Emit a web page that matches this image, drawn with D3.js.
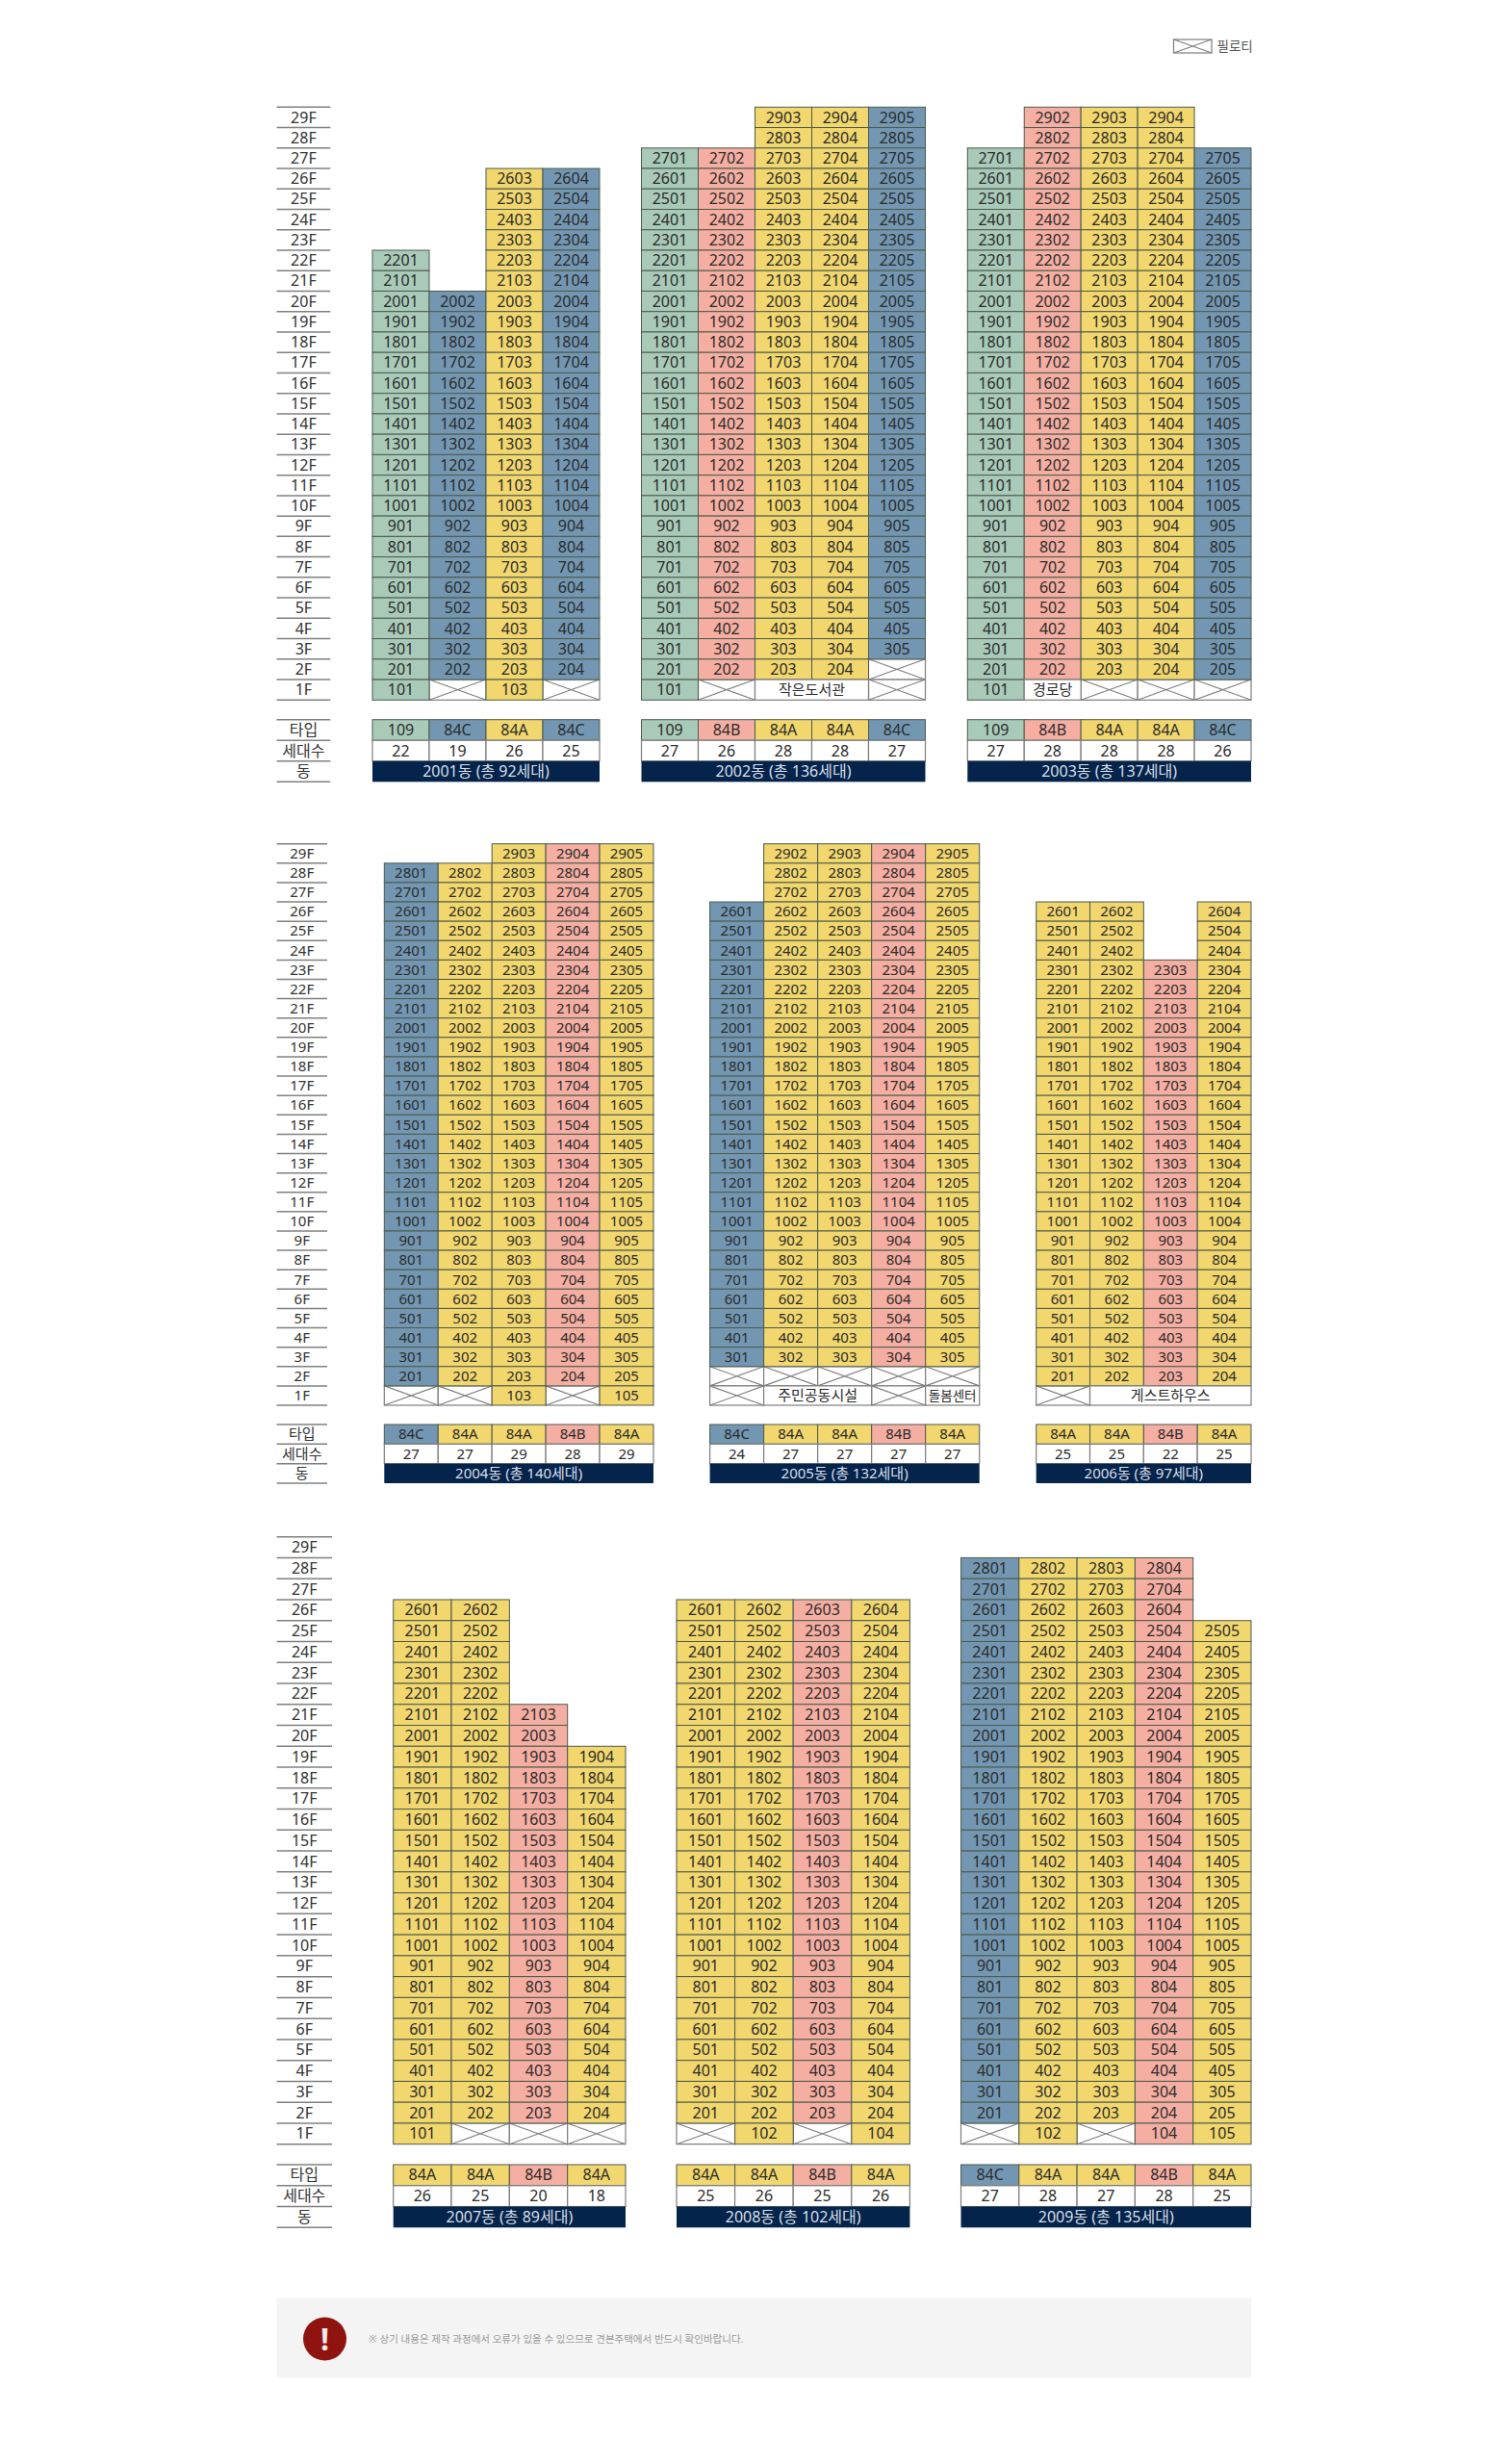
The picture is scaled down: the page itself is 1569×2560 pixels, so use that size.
<!DOCTYPE html>
<html lang="ko">
<head>
<meta charset="utf-8">
<script src="https://cdn.jsdelivr.net/npm/d3@7/dist/d3.min.js"></script>
<style>
html,body{margin:0;padding:0;background:#fff}
svg{display:block}
text{font-family:"Noto Sans","Noto Sans CJK KR",sans-serif;fill:#2b2b2b}
</style>
</head>
<body>
<div id="chart"></div>
<script>
// ---- data ----
const floorLabels = d3.range(29, 0, -1);
const tableLabels = ['타입', '세대수', '동'];
const buildingTitles = ['2001동 (총 92세대)','2002동 (총 136세대)','2003동 (총 137세대)',
  '2004동 (총 140세대)','2005동 (총 132세대)','2006동 (총 97세대)',
  '2007동 (총 89세대)','2008동 (총 102세대)','2009동 (총 135세대)'];
const buildingTypes = [
  ['109','84C','84A','84C'],
  ['109','84B','84A','84A','84C'],
  ['109','84B','84A','84A','84C'],
  ['84C','84A','84A','84B','84A'],
  ['84C','84A','84A','84B','84A'],
  ['84A','84A','84B','84A'],
  ['84A','84A','84B','84A'],
  ['84A','84A','84B','84A'],
  ['84C','84A','84A','84B','84A']
];
const householdCounts = [
  [22,19,26,25],[27,26,28,28,27],[27,28,28,28,26],
  [27,27,29,28,29],[24,27,27,27,27],[25,25,22,25],
  [26,25,20,18],[25,26,25,26],[27,28,27,28,25]
];
const topFloors = [
  [22,20,26,26],[27,27,29,29,29],[27,29,29,29,27],
  [28,28,29,29,29],[26,29,29,29,29],[26,26,23,26],
  [26,26,21,19],[26,26,26,26],[28,28,28,28,25]
];
// non-residential rooms: [building, floor, first line, lines spanned, name]
const facilities = [
  [1,1,2,2,'작은도서관'],
  [2,1,1,1,'경로당'],
  [4,1,1,2,'주민공동시설'],
  [4,1,4,1,'돌봄센터'],
  [5,1,1,3,'게스트하우스']
];
const legendLabel = '필로티';
const noticeText = '※ 상기 내용은 제작 과정에서 오류가 있을 수 있으므로 견본주택에서 반드시 확인바랍니다.';

// ---- layout and style ----
const W = 1569, H = 2560;
const typeColor = d3.scaleOrdinal(['109','84C','84A','84B'], ['#a9cab9','#7397b2','#f1d76e','#f5aea2']);
const groups = [
  {top:111.3, bottom:727.3, table:[747.7,812.3], ruleEnd:343.3, font:16, buildings:[[0,387,623],[1,666.5,961.5],[2,1005.3,1300]]},
  {top:876.7, bottom:1460, table:[1480,1541], ruleEnd:340, font:15, buildings:[[3,399.3,679],[4,737.6,1017.7],[5,1076.7,1300]]},
  {top:1596.7, bottom:2227.7, table:[2249,2314.3], ruleEnd:345, font:16, buildings:[[6,408.7,650],[7,703,945.4],[8,998.5,1300]]}
];
const ruleStart = 287.5, gridStroke = '#4d5a4c', pilotiStroke = '#7d7d7d', ruleStroke = '#808080';

const svg = d3.select('#chart').append('svg').attr('width', W).attr('height', H).attr('viewBox', `0 0 ${W} ${H}`);

function pilotis(g, x, y, w, h) {
  g.append('rect').attr('x', x).attr('y', y).attr('width', w).attr('height', h)
    .attr('fill', '#fff').attr('stroke', pilotiStroke).attr('stroke-width', 1.2);
  g.append('path').attr('d', `M${x},${y}L${x+w},${y+h}M${x+w},${y}L${x},${y+h}`)
    .attr('fill', 'none').attr('stroke', pilotiStroke).attr('stroke-width', 1.1);
}

function sideLabels(g, scale, domain, group) {
  // rules between labels, labels through a d3 axis
  const edges = domain.map(d => scale(d)).concat(scale(domain[domain.length - 1]) + scale.bandwidth());
  g.selectAll(null).data(edges).join('line')
    .attr('x1', ruleStart).attr('x2', group.ruleEnd).attr('y1', d => d).attr('y2', d => d)
    .attr('stroke', ruleStroke).attr('stroke-width', 1.5);
  const axis = g.append('g').attr('transform', `translate(${(ruleStart + group.ruleEnd) / 2},0)`)
    .call(d3.axisLeft(scale).tickSize(0).tickPadding(0).tickFormat(d => typeof d === 'number' ? d + 'F' : d));
  axis.select('.domain').remove();
  axis.selectAll('text').attr('x', 0).attr('text-anchor', 'middle').attr('dy', '.35em')
    .style('font-size', group.font + 'px').style('fill', '#333');
}

groups.forEach(group => {
  const root = svg.append('g');
  const y = d3.scaleBand().domain(floorLabels).range([group.top, group.bottom]);
  const yTable = d3.scaleBand().domain(tableLabels).range(group.table);
  sideLabels(root, y, floorLabels, group);
  sideLabels(root, yTable, tableLabels, group);

  group.buildings.forEach(([b, x0, x1]) => {
    const types = buildingTypes[b];
    const x = d3.scaleBand().domain(d3.range(types.length)).range([x0, x1]);
    const g = root.append('g');
    const w = x.bandwidth(), h = y.bandwidth();

    const units = [], voids = [];
    types.forEach((t, c) => {
      const top = topFloors[b][c];
      const low = top - householdCounts[b][c] + 1;
      for (let f = top; f >= low; f--) units.push({floor:f, col:c, type:t, label:String(f * 100 + c + 1)});
      for (let f = low - 1; f >= 1; f--) {
        const taken = facilities.some(q => q[0] === b && q[1] === f && c >= q[2] && c < q[2] + q[3]);
        if (!taken) voids.push({floor:f, col:c});
      }
    });

    voids.forEach(d => pilotis(g, x(d.col), y(d.floor), w, h));

    g.selectAll('rect.unit').data(units).join('rect').attr('class', 'unit')
      .attr('x', d => x(d.col)).attr('y', d => y(d.floor)).attr('width', w).attr('height', h)
      .attr('fill', d => typeColor(d.type)).attr('stroke', gridStroke).attr('stroke-width', 1);
    g.selectAll('text.unit').data(units).join('text').attr('class', 'unit')
      .attr('x', d => x(d.col) + w / 2).attr('y', d => y(d.floor) + h / 2).attr('dy', '.35em')
      .attr('text-anchor', 'middle').style('font-size', group.font + 'px').text(d => d.label);

    facilities.filter(q => q[0] === b).forEach(q => {
      const fx = x(q[2]), fw = w * q[3], fy = y(q[1]);
      g.append('rect').attr('x', fx).attr('y', fy).attr('width', fw).attr('height', h)
        .attr('fill', '#fff').attr('stroke', pilotiStroke).attr('stroke-width', 1.2);
      g.append('text').attr('x', fx + fw / 2).attr('y', fy + h / 2).attr('dy', '.35em')
        .attr('text-anchor', 'middle').style('font-size', (q[4].length === 4 ? 13.5 : 15) + 'px').text(q[4]);
    });

    // table under the building
    const th = yTable.bandwidth();
    g.selectAll('rect.type').data(types).join('rect').attr('class', 'type')
      .attr('x', (d, i) => x(i)).attr('y', yTable('타입')).attr('width', w).attr('height', th)
      .attr('fill', d => typeColor(d)).attr('stroke', gridStroke).attr('stroke-width', 1);
    g.selectAll('text.type').data(types).join('text').attr('class', 'type')
      .attr('x', (d, i) => x(i) + w / 2).attr('y', yTable('타입') + th / 2).attr('dy', '.35em')
      .attr('text-anchor', 'middle').style('font-size', group.font + 'px').text(d => d);
    g.selectAll('rect.count').data(householdCounts[b]).join('rect').attr('class', 'count')
      .attr('x', (d, i) => x(i)).attr('y', yTable('세대수')).attr('width', w).attr('height', th)
      .attr('fill', '#fff').attr('stroke', pilotiStroke).attr('stroke-width', 1.2);
    g.selectAll('text.count').data(householdCounts[b]).join('text').attr('class', 'count')
      .attr('x', (d, i) => x(i) + w / 2).attr('y', yTable('세대수') + th / 2).attr('dy', '.35em')
      .attr('text-anchor', 'middle').style('font-size', group.font + 'px').text(d => d);
    g.append('rect').attr('x', x0).attr('y', yTable('동')).attr('width', x1 - x0).attr('height', th)
      .attr('fill', '#04244b');
    g.append('text').attr('x', (x0 + x1) / 2).attr('y', yTable('동') + th / 2).attr('dy', '.35em')
      .attr('text-anchor', 'middle').style('font-size', group.font + 'px').style('fill', '#d9dfe8')
      .text(buildingTitles[b]);
  });
});

// legend
const legend = svg.append('g');
pilotis(legend, 1219.5, 41, 39.5, 14);
legend.append('text').attr('x', 1264.5).attr('y', 48).attr('dy', '.35em')
  .style('font-size', '13.5px').style('fill', '#555').text(legendLabel);

// notice
const notice = svg.append('g');
notice.append('rect').attr('x', 287.5).attr('y', 2387.5).attr('width', 1012.5).attr('height', 83).attr('fill', '#f4f4f4');
notice.append('circle').attr('cx', 337.5).attr('cy', 2430).attr('r', 22.5).attr('fill', '#8f1410');
notice.append('text').attr('x', 337.5).attr('y', 2430).attr('dy', '.36em').attr('text-anchor', 'middle')
  .style('font-size', '32px').style('font-weight', 700).style('fill', '#f4e9e8').text('!');
notice.append('text').attr('x', 383).attr('y', 2430).attr('dy', '.35em')
  .style('font-size', '10.5px').style('fill', '#9a9a9a').text(noticeText);
</script>
</body>
</html>
